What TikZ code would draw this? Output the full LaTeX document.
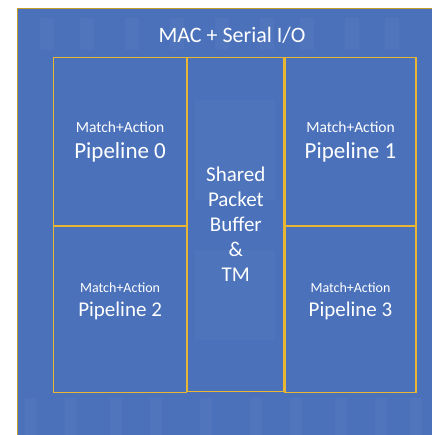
\documentclass[tikz,border=0pt]{standalone}
\usepackage{fontspec}
\setmainfont{Carlito}
\usetikzlibrary{positioning}
\definecolor{dieblue}{RGB}{74,113,186}
\definecolor{dielight}{RGB}{108,140,200}
\definecolor{gold}{RGB}{232,182,50}
\begin{document}
\begin{tikzpicture}[x=1pt,y=-1pt,
  block/.style={draw=gold, line width=1.2pt, inner sep=0pt, anchor=north west},
  lbl/.style={text=white, align=center, inner sep=0pt},
  bigtop/.style={font=\fontsize{23}{26}\selectfont},
  bigbot/.style={font=\fontsize{21}{24}\selectfont}]

\useasboundingbox (0,0) rectangle (432,435);

% die background
\fill[dieblue] (17,9) rectangle (432,435);
\draw[gold!85!black, line width=1pt] (17,435) -- (17,9) -- (432,9);

% faint die texture
\foreach \x in {40,80,125,170,215,260,300,345,385}
    \fill[dielight, opacity=0.18] (\x,18) rectangle ++(14,32);
\foreach \x in {25,65,110,150,200,250,290,335,375,410}
    \fill[dielight, opacity=0.18] (\x,398) rectangle ++(12,37);
\fill[dielight, opacity=0.12] (195,100) rectangle (275,200);
\fill[dielight, opacity=0.12] (195,250) rectangle (275,340);

\node[text=white, font=\fontsize{22}{26}\selectfont] (mac) at (232,35) {MAC + Serial I/O};

% blocks
\node[block, minimum width=133pt, minimum height=168pt] (pipe0) at (53,57) {};
\node[block, minimum width=96pt, minimum height=334pt] (buf) at (pipe0.north east) {};
\node[block, minimum width=131pt, minimum height=168pt] (pipe1) at (buf.north east) {};
\node[block, minimum width=133pt, minimum height=166pt] (pipe2) at (pipe0.south west) {};
\node[block, minimum width=131pt, minimum height=166pt] (pipe3) at (pipe1.south west) {};

% labels
\node[lbl, bigtop] (txt0) at (pipe0.center) {{\fontsize{15.5}{17}\selectfont Match+Action}\\Pipeline 0};
\node[lbl, bigtop] (txt1) at (pipe1.center) {{\fontsize{15.5}{17}\selectfont Match+Action}\\Pipeline 1};
\node[lbl, bigbot] (txt2) at ([yshift=8pt]pipe2.center) {{\fontsize{14}{16}\selectfont Match+Action}\\Pipeline 2};
\node[lbl, bigbot] (txt3) at ([yshift=8pt]pipe3.center) {{\fontsize{14}{16}\selectfont Match+Action}\\Pipeline 3};
\node[lbl, font=\fontsize{21}{25}\selectfont] (txtbuf) at (buf.center) {Shared\\Packet\\Buffer\\\&\\TM};

\end{tikzpicture}
\end{document}
